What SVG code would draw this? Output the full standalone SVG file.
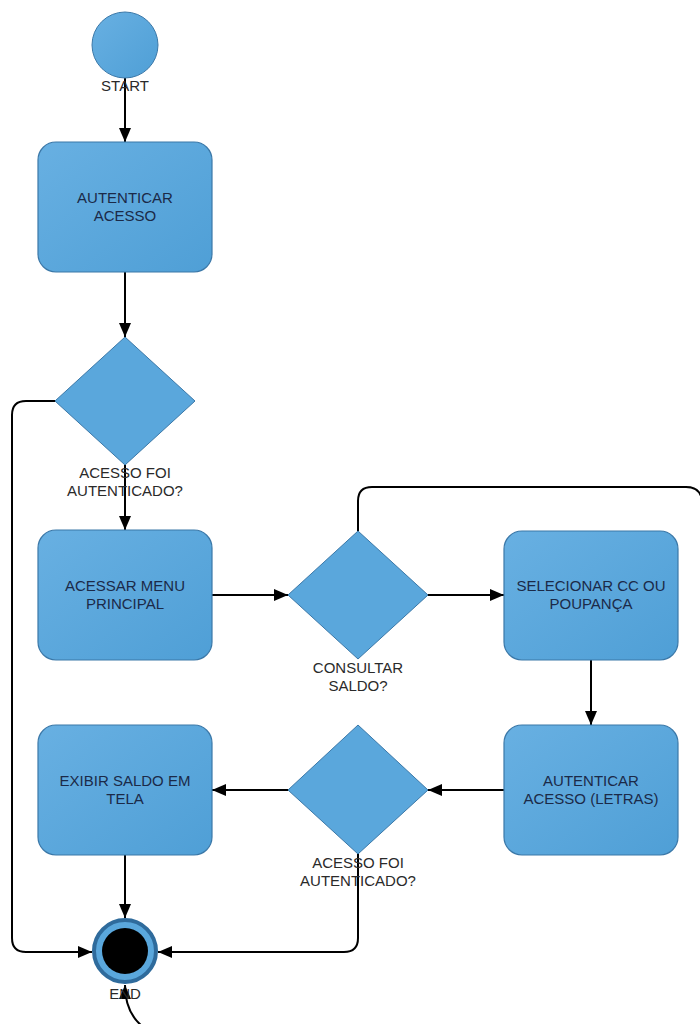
<svg xmlns="http://www.w3.org/2000/svg" width="700" height="1024" viewBox="0 0 700 1024">
<defs>
<linearGradient id="g" x1="0" y1="0" x2="1" y2="1">
<stop offset="0" stop-color="#68b0e2"/>
<stop offset="1" stop-color="#4f9fd6"/>
</linearGradient>
<marker id="ah" markerUnits="userSpaceOnUse" markerWidth="14" markerHeight="12" viewBox="0 0 14 12" refX="14" refY="6" orient="auto">
<path d="M0,0 L14,6 L0,12 z" fill="#000"/>
</marker>
</defs>
<style>
.box{fill:url(#g);stroke:#3b78a8;stroke-width:1.2}
.dia{fill:#5aa7dc;stroke:#3b78a8;stroke-width:1}
.t{font-family:"Liberation Sans",Arial,sans-serif;font-size:15px;fill:#1b2a48;text-anchor:middle}
.l{font-family:"Liberation Sans",Arial,sans-serif;font-size:15px;fill:#2a2a2a;text-anchor:middle}
.c{fill:none;stroke:#000;stroke-width:2}
</style>
<rect width="700" height="1024" fill="#fff"/>
<g id="connectors">
<path class="c" d="M125,78 V142" marker-end="url(#ah)"/>
<path class="c" d="M125,272 V337" marker-end="url(#ah)"/>
<path class="c" d="M125,465 V530" marker-end="url(#ah)"/>
<path class="c" d="M55,401 H26 Q12,401 12,415 V938 Q12,952 26,952 H92" marker-end="url(#ah)"/>
<path class="c" d="M212,595 H288" marker-end="url(#ah)"/>
<path class="c" d="M428,595 H504" marker-end="url(#ah)"/>
<path class="c" d="M358,531 V501 Q358,487 372,487 H686 Q700,487 702,500"/>
<path class="c" d="M591,660 V725" marker-end="url(#ah)"/>
<path class="c" d="M504,790 H428" marker-end="url(#ah)"/>
<path class="c" d="M288,790 H212" marker-end="url(#ah)"/>
<path class="c" d="M125,855 V918" marker-end="url(#ah)"/>
<path class="c" d="M358,853 V938 Q358,952 344,952 H158" marker-end="url(#ah)"/>
<path class="c" d="M142,1026 Q125,1012 125,985" marker-end="url(#ah)"/>
</g>
<g id="start">
<circle cx="125" cy="45" r="33" fill="url(#g)" stroke="#3b78a8" stroke-width="1"/>
<text class="l" x="125" y="91">START</text>
</g>
<g id="autenticar">
<rect class="box" x="38" y="142" width="174" height="130" rx="18"/>
<text class="t" x="125" y="203">AUTENTICAR</text>
<text class="t" x="125" y="221">ACESSO</text>
</g>
<g id="decisao1">
<polygon class="dia" points="125,337 195,401 125,465 55,401"/>
<text class="l" x="125" y="478">ACESSO FOI</text>
<text class="l" x="125" y="496">AUTENTICADO?</text>
</g>
<g id="menu">
<rect class="box" x="38" y="530" width="174" height="130" rx="18"/>
<text class="t" x="125" y="591">ACESSAR MENU</text>
<text class="t" x="125" y="609">PRINCIPAL</text>
</g>
<g id="consultar">
<polygon class="dia" points="358,531 428,595 358,659 288,595"/>
<text class="l" x="358" y="673">CONSULTAR</text>
<text class="l" x="358" y="691">SALDO?</text>
</g>
<g id="selecionar">
<rect class="box" x="504" y="531" width="174" height="129" rx="18"/>
<text class="t" x="591" y="591">SELECIONAR CC OU</text>
<text class="t" x="591" y="609">POUPANÇA</text>
</g>
<g id="autenticar-letras">
<rect class="box" x="504" y="725" width="174" height="130" rx="18"/>
<text class="t" x="591" y="786">AUTENTICAR</text>
<text class="t" x="591" y="804">ACESSO (LETRAS)</text>
</g>
<g id="decisao2">
<polygon class="dia" points="358,725 428,790 358,854 288,790"/>
<text class="l" x="358" y="868">ACESSO FOI</text>
<text class="l" x="358" y="886">AUTENTICADO?</text>
</g>
<g id="exibir">
<rect class="box" x="38" y="725" width="174" height="130" rx="18"/>
<text class="t" x="125" y="786">EXIBIR SALDO EM</text>
<text class="t" x="125" y="804">TELA</text>
</g>
<g id="end">
<circle cx="125" cy="951" r="31" fill="#5aa7dc" stroke="#2f6b9c" stroke-width="4"/>
<circle cx="125" cy="951" r="23" fill="#000"/>
<text class="l" x="125" y="999">END</text>
</g>
</svg>
